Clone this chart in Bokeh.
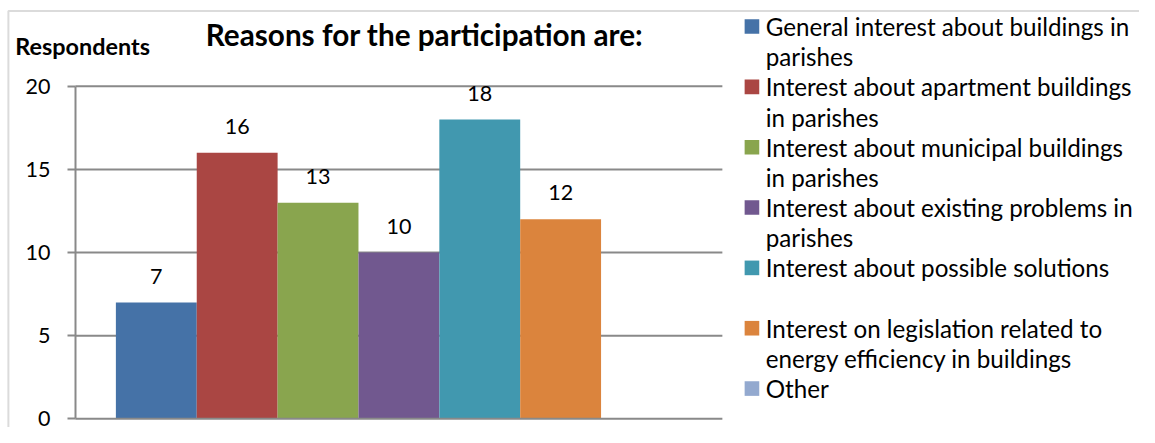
from bokeh.plotting import figure
from bokeh.models import Range1d, FixedTicker, BoxAnnotation, ColumnDataSource
from bokeh.core.properties import value
from bokeh.embed import file_html
from bokeh.resources import INLINE

# ---- data ----
title_text = "Reasons for the participation are:"
y_label = "Respondents"
categories = [
    "General interest about buildings in\nparishes",
    "Interest about apartment buildings\nin parishes",
    "Interest about municipal buildings\nin parishes",
    "Interest about existing problems in\nparishes",
    "Interest about possible solutions\n",
    "Interest on legislation related to\nenergy efficiency in buildings",
    "Other",
]
values = [7, 16, 13, 10, 18, 12, 0]
colors = ["#4572A7", "#AA4643", "#89A54E", "#71588F", "#4198AF", "#DB843D", "#93A9CF"]
y_ticks = [0, 5, 10, 15, 20]

# ---- layout constants ----
W, H = 1139, 427            # canvas size
REF_W, REF_H = 1155, 443    # layout designed on this grid
S = (W / REF_W + H / REF_H) / 2
FONT = "Lato"
GRAY = "#898989"
X0_PX, SLOT_PX = 158.0, 82.0      # first bar centre / bar pitch on the layout grid
Y0_PX, UNIT_PX = 434.0, 17.25     # zero line / pixels per respondent on the layout grid


def dx(px):
    return (px - X0_PX) / SLOT_PX


def dy(py):
    return (Y0_PX - py) / UNIT_PX


def fs(px):
    return "%.1fpx" % (px * S)


p = figure(width=W, height=H, output_backend="svg", toolbar_location=None,
           x_range=Range1d(dx(0), dx(REF_W)), y_range=Range1d(dy(REF_H), dy(0)),
           x_axis_location=None,
           min_border_left=0, min_border_right=0, min_border_top=0, min_border_bottom=0)
p.outline_line_color = None
p.grid.visible = False
p.background_fill_color = "white"
p.border_fill_color = "white"

# outer chart border (right/bottom sides fall outside the picture)
p.add_layout(BoxAnnotation(left=dx(8), right=dx(REF_W + 50), top=dy(11), bottom=dy(REF_H + 50),
                           fill_color=None, line_color=GRAY, line_width=2))

n = len(categories)
xs = list(range(n))
axis_x = dx(76)
grid_x1 = n - 0.5 + 0.5

ax = p.yaxis[0]
ax.fixed_location = axis_x
ax.ticker = FixedTicker(ticks=y_ticks)
ax.bounds = (min(y_ticks), max(y_ticks))
ax.axis_line_color = GRAY
ax.axis_line_width = 2
ax.major_tick_line_color = GRAY
ax.major_tick_line_width = 2
ax.major_tick_out = 8
ax.major_tick_in = 0
ax.minor_tick_line_color = None
ax.major_label_standoff = 17
ax.major_label_text_font = FONT
ax.major_label_text_font_size = fs(22)
ax.major_label_text_color = "black"

# gridlines
grid_levels = [t for t in y_ticks if t > 0]
p.segment(x0=[axis_x] * len(grid_levels), x1=[grid_x1] * len(grid_levels),
          y0=grid_levels, y1=grid_levels, line_color=GRAY, line_width=2)

# bars
src = ColumnDataSource(dict(x=xs, top=values, color=colors))
p.vbar(x="x", top="top", bottom=0, width=1.0, fill_color="color", line_color=None, source=src)

# zero line (category axis)
p.segment(x0=[axis_x], x1=[grid_x1], y0=[0], y1=[0], line_color=GRAY, line_width=2)

# data labels
lx = [x for x, v in zip(xs, values) if v > 0]
lv = [v for v in values if v > 0]
p.text(x=lx, y=lv, text=[str(v) for v in lv], y_offset=-27 * S,
       text_align="center", text_baseline="middle",
       text_font=value(FONT), text_font_size=fs(22), text_color="black")

# title
p.text(x=[dx(430)], y=[dy(35)], text=[title_text],
       text_align="center", text_baseline="middle", text_font=value(FONT),
       text_font_size=fs(30.5), text_font_style="bold", text_color="black")

# y label (top-left)
p.text(x=[dx(15)], y=[dy(47.5)], text=[y_label],
       text_align="left", text_baseline="middle", text_font=value(FONT),
       text_font_size=fs(24), text_font_style="bold", text_color="black")

# legend drawn manually
LINE0, LINE_STEP = 27.0, 31.3
sq_y, t_y, t_txt = [], [], []
k = 0
for cat in categories:
    sq_y.append(dy(LINE0 + k * LINE_STEP))
    for ln in cat.split("\n"):
        if ln:
            t_y.append(dy(LINE0 + k * LINE_STEP))
            t_txt.append(ln)
        k += 1
p.rect(x=[dx(762)] * n, y=sq_y, width=15 * S, height=15 * S,
       width_units="screen", height_units="screen", fill_color=colors, line_color=None)
p.text(x=[dx(776)] * len(t_y), y=t_y, text=t_txt, text_align="left", text_baseline="middle",
       text_font=value(FONT), text_font_size=fs(24.8), text_color="black")

open("out.html", "w").write(file_html(p, INLINE))
